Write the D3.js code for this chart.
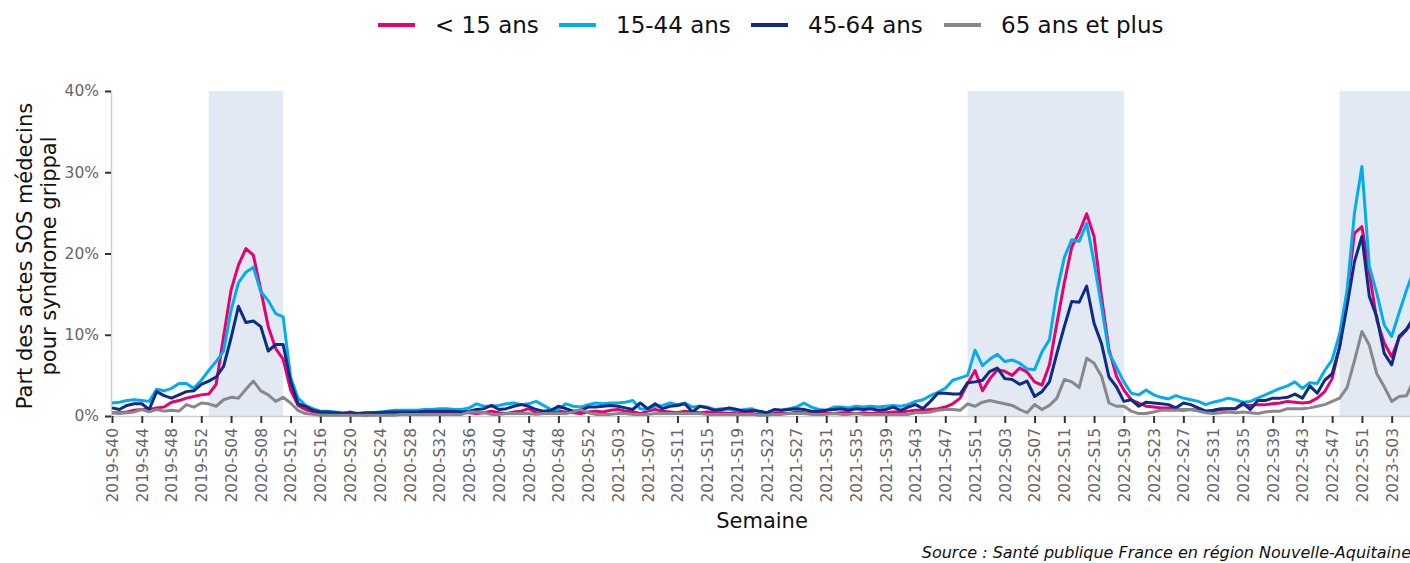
<!DOCTYPE html>
<html>
<head>
<meta charset="utf-8">
<style>
  body { margin: 0; background: #fff; }
  svg { display: block; font-family: "DejaVu Sans", sans-serif; }
  svg text { font-family: "DejaVu Sans", sans-serif; }
</style>
</head>
<body>
<svg id="chart" width="1410" height="563"></svg>
<script src="https://cdn.jsdelivr.net/npm/d3@7"></script>
<script>
// weeks: 2019-S40 .. 2023-S06 (2020 has 53 weeks)
const seasons = [[2019, 40, 52], [2020, 1, 53], [2021, 1, 52], [2022, 1, 52], [2023, 1, 6]]
const weeks = []
for (let s of seasons) {
  for (let w = s[1]; w <= s[2]; w++) weeks.push(s[0] + "-S" + String(w).padStart(2, "0"))
}

const xTickLabels = [
  "2019-S40", "2019-S44", "2019-S48", "2019-S52", "2020-S04", "2020-S08", "2020-S12", "2020-S16",
  "2020-S20", "2020-S24", "2020-S28", "2020-S32", "2020-S36", "2020-S40", "2020-S44", "2020-S48",
  "2020-S52", "2021-S03", "2021-S07", "2021-S11", "2021-S15", "2021-S19", "2021-S23", "2021-S27",
  "2021-S31", "2021-S35", "2021-S39", "2021-S43", "2021-S47", "2021-S51", "2022-S03", "2022-S07",
  "2022-S11", "2022-S15", "2022-S19", "2022-S23", "2022-S27", "2022-S31", "2022-S35", "2022-S39",
  "2022-S43", "2022-S47", "2022-S51", "2023-S03"
]
const yTicks = [0, 10, 20, 30, 40]

// periodes epidemiques (bandes grises)
const epidemics = [["2020-S01", "2020-S11"], ["2021-S50", "2022-S19"], ["2022-S48", "2023-S06"]]

const ageGroups = ["< 15 ans", "15-44 ans", "45-64 ans", "65 ans et plus"]
const colors = ["#e8006f", "#00aeef", "#0b2d85", "#87888b"]

const moins15 = [
  0.4, 0.4, 0.5, 0.7, 0.8, 0.8, 1.0, 1.1, 1.7, 1.9,
  2.2, 2.4, 2.6, 2.7, 3.9, 9.8, 15.5, 18.6, 20.6, 19.8,
  15.5, 11.0, 8.3, 7.0, 3.2, 1.3, 0.8, 0.5, 0.3, 0.3,
  0.2, 0.3, 0.5, 0.2, 0.1, 0.2, 0.2, 0.2, 0.3, 0.3,
  0.3, 0.3, 0.3, 0.4, 0.3, 0.3, 0.3, 0.4, 0.4, 0.3,
  0.4, 0.6, 0.4, 0.3, 0.5, 0.6, 0.9, 0.4, 0.3, 0.4,
  0.6, 0.5, 0.4, 0.3, 0.5, 0.6, 0.5, 0.7, 0.8, 0.6,
  0.5, 0.3, 0.6, 0.8, 0.6, 0.5, 0.4, 0.6, 0.5, 0.4,
  0.5, 0.4, 0.4, 0.3, 0.4, 0.3, 0.3, 0.2, 0.2, 0.3,
  0.3, 0.3, 0.5, 0.4, 0.3, 0.3, 0.3, 0.3, 0.4, 0.4,
  0.3, 0.4, 0.3, 0.4, 0.4, 0.5, 0.5, 0.6, 0.7, 0.7,
  0.8, 0.9, 1.1, 1.5, 2.2, 4.0, 5.6, 3.1, 4.6, 5.7,
  5.5, 5.0, 5.9, 5.4, 4.2, 3.8, 6.3, 11.4, 16.4, 20.8,
  22.6, 24.9, 22.1, 14.7, 8.2, 4.9, 3.2, 2.0, 1.6, 1.2,
  1.1, 1.0, 1.0, 0.8, 0.7, 0.8, 0.7, 0.6, 0.6, 0.8,
  0.9, 0.9, 1.4, 1.3, 1.4, 1.4, 1.5, 1.6, 1.8, 1.7,
  1.6, 1.7, 2.2, 3.0, 4.6, 8.5, 15.1, 22.5, 23.3, 17.6,
  11.8, 9.0, 7.3, 9.6, 10.6, 11.8
]
const de15a44 = [
  1.6, 1.7, 1.9, 2.0, 1.9, 1.8, 3.3, 3.1, 3.4, 4.0,
  4.0, 3.4, 4.4, 5.6, 6.7, 8.0, 13.0, 16.4, 17.7, 18.3,
  15.3, 14.2, 12.6, 12.2, 4.8, 2.2, 1.3, 0.9, 0.6, 0.6,
  0.5, 0.4, 0.4, 0.3, 0.3, 0.4, 0.5, 0.6, 0.7, 0.7,
  0.7, 0.7, 0.8, 0.8, 0.9, 0.9, 0.8, 0.8, 1.0, 1.5,
  1.2, 1.2, 1.3, 1.5, 1.6, 1.4, 1.5, 1.8, 1.3, 0.8,
  0.8, 1.5, 1.2, 1.1, 1.4, 1.6, 1.5, 1.6, 1.6, 1.7,
  1.9, 0.9, 0.8, 1.2, 1.3, 1.6, 1.4, 1.6, 1.1, 1.2,
  1.1, 0.8, 0.9, 0.8, 0.6, 0.8, 0.9, 0.5, 0.4, 0.7,
  0.7, 0.9, 1.1, 1.6, 1.1, 0.8, 0.7, 1.1, 1.1, 1.0,
  1.2, 1.1, 1.2, 1.1, 1.2, 1.3, 1.2, 1.4, 1.8, 2.0,
  2.5, 2.9, 3.4, 4.4, 4.7, 5.0, 8.1, 6.2, 7.0, 7.6,
  6.7, 6.9, 6.5, 5.8, 5.7, 7.9, 9.4, 15.3, 19.5, 21.7,
  21.5, 23.7, 18.9, 13.5, 7.8, 6.0, 4.2, 2.8, 2.6, 3.2,
  2.6, 2.3, 2.1, 2.5, 2.2, 2.0, 1.8, 1.4, 1.7, 1.9,
  2.2, 2.0, 1.7, 1.8, 2.2, 2.6, 3.0, 3.4, 3.7, 4.2,
  3.4, 4.1, 4.0, 5.6, 6.9, 10.1, 15.4, 25.0, 30.7, 18.4,
  15.1, 11.2, 9.8, 12.7, 15.5, 18.0
]
const de45a64 = [
  1.0, 0.8, 1.3, 1.5, 1.5, 0.8, 3.0, 2.5, 2.2, 2.6,
  3.0, 3.1, 3.9, 4.3, 4.8, 6.1, 9.6, 13.5, 11.5, 11.7,
  11.0, 8.0, 8.8, 8.8, 4.3, 1.5, 1.2, 0.7, 0.5, 0.5,
  0.4, 0.3, 0.4, 0.3, 0.4, 0.4, 0.4, 0.5, 0.5, 0.5,
  0.5, 0.5, 0.6, 0.6, 0.6, 0.6, 0.6, 0.5, 0.6, 0.8,
  0.9, 1.3, 0.8, 0.9, 1.2, 1.4, 1.2, 0.8, 0.6, 0.7,
  1.2, 0.9, 0.6, 0.7, 1.1, 1.1, 1.2, 1.3, 1.2, 1.0,
  0.8, 1.6, 0.9, 1.5, 0.9, 1.2, 1.3, 1.5, 0.5, 1.2,
  1.0, 0.7, 0.8, 1.0, 0.8, 0.6, 0.7, 0.6, 0.4, 0.8,
  0.7, 0.8, 0.9, 0.8, 0.6, 0.6, 0.7, 0.8, 0.9, 0.7,
  0.9, 0.8, 0.9, 0.7, 0.8, 1.1, 0.7, 1.1, 1.4, 0.9,
  1.8, 2.8, 2.8, 2.7, 2.7, 4.1, 4.2, 4.4, 5.5, 5.9,
  4.6, 4.5, 3.9, 4.3, 2.4, 3.0, 4.2, 7.7, 11.0, 14.1,
  14.0, 16.0, 11.4, 8.9, 4.8, 3.6, 1.8, 2.0, 1.2, 1.7,
  1.6, 1.5, 1.4, 1.0, 1.6, 1.4, 1.0, 0.6, 0.7, 0.9,
  0.9, 0.9, 1.6, 0.8, 1.9, 1.9, 2.2, 2.2, 2.3, 2.7,
  2.2, 3.7, 2.8, 4.4, 5.2, 8.5, 13.5, 19.0, 22.1, 14.7,
  12.2, 7.7, 6.3, 9.8, 10.7, 12.2
]
const plus65 = [
  0.4, 0.3, 0.4, 0.5, 0.8, 0.5, 0.8, 0.6, 0.7, 0.6,
  1.4, 1.1, 1.6, 1.5, 1.2, 2.0, 2.3, 2.2, 3.3, 4.3,
  3.1, 2.6, 1.8, 2.3, 1.6, 0.7, 0.3, 0.2, 0.1, 0.1,
  0.1, 0.1, 0.1, 0.1, 0.1, 0.1, 0.1, 0.1, 0.1, 0.2,
  0.2, 0.2, 0.2, 0.2, 0.2, 0.2, 0.2, 0.2, 0.5, 0.5,
  0.4, 0.2, 0.2, 0.3, 0.3, 0.3, 0.3, 0.2, 0.3, 0.3,
  0.3, 0.3, 0.5, 0.8, 0.4, 0.2, 0.2, 0.2, 0.3, 0.3,
  0.2, 0.2, 0.2, 0.3, 0.3, 0.3, 0.3, 0.3, 0.3, 0.3,
  0.2, 0.2, 0.2, 0.2, 0.2, 0.2, 0.2, 0.1, 0.1, 0.2,
  0.2, 0.3, 0.3, 0.3, 0.2, 0.2, 0.2, 0.3, 0.2, 0.2,
  0.3, 0.2, 0.2, 0.2, 0.2, 0.2, 0.2, 0.2, 0.4, 0.4,
  0.5, 0.7, 0.8, 0.8, 0.7, 1.5, 1.2, 1.7, 1.9, 1.7,
  1.5, 1.3, 0.8, 0.4, 1.4, 0.8, 1.3, 2.2, 4.5, 4.2,
  3.5, 7.1, 6.5, 4.9, 1.6, 1.2, 1.2, 0.6, 0.3, 0.3,
  0.5, 0.7, 0.7, 0.7, 0.8, 0.8, 0.6, 0.4, 0.3, 0.4,
  0.5, 0.4, 0.5, 0.4, 0.3, 0.5, 0.6, 0.6, 0.9, 0.9,
  0.9, 1.0, 1.2, 1.4, 1.8, 2.2, 3.5, 6.8, 10.4, 8.7,
  5.2, 3.6, 1.8, 2.4, 2.5, 4.5
]
const series = [moins15, de15a44, de45a64, plus65]

let svg = d3.select("#chart")

let x = d3.scalePoint()
  .domain(weeks)
  .range([112, 112 + 7.44 * (weeks.length - 1)])

let y = d3.scaleLinear()
  .domain([0, 40])
  .range([416, 91])

// bandes epidemiques
svg.append("g").selectAll("rect")
  .data(epidemics)
  .enter().append("rect")
  .attr("x", d => x(d[0]))
  .attr("y", y(40))
  .attr("width", d => x(d[1]) - x(d[0]))
  .attr("height", y(0) - y(40))
  .attr("fill", "#e3e9f2")

// axe y
let yAxis = svg.append("g")
  .attr("transform", "translate(111,0)")
  .call(d3.axisLeft(y).tickValues(yTicks).tickFormat(d => d + "%").tickSize(6).tickPadding(6))
yAxis.attr("font-family", null)
yAxis.select(".domain").attr("stroke", "#cfcfcf").attr("stroke-width", 1.5)
yAxis.selectAll(".tick line").attr("stroke", "#333").attr("stroke-width", 2)
yAxis.selectAll("text").attr("fill", "#666").style("font-size", "15.5px")

// axe x
let xAxis = svg.append("g")
  .attr("transform", "translate(0,416)")
  .call(d3.axisBottom(x).tickValues(xTickLabels).tickSize(7).tickSizeOuter(0))
xAxis.attr("font-family", null)
xAxis.select(".domain").attr("stroke", "#cfcfcf").attr("stroke-width", 1.5)
xAxis.selectAll(".tick line").attr("stroke", "#333").attr("stroke-width", 2)
xAxis.selectAll("text")
  .attr("fill", "#666")
  .style("font-size", "15.5px")
  .attr("text-anchor", "end")
  .attr("transform", "rotate(-90)")
  .attr("x", -12)
  .attr("y", 0)
  .attr("dy", "0.35em")

// courbes
let line = d3.line()
  .x((d, i) => x(weeks[i]))
  .y(d => y(d))

svg.append("g").selectAll("path")
  .data(series)
  .enter().append("path")
  .attr("d", d => line(d))
  .attr("fill", "none")
  .attr("stroke", (d, i) => colors[i])
  .attr("stroke-width", 3)
  .attr("stroke-linejoin", "round")

// titres
svg.append("text")
  .attr("transform", "translate(34,256) rotate(-90)")
  .attr("text-anchor", "middle")
  .style("font-size", "21px")
  .attr("fill", "#111")
  .selectAll("tspan")
  .data(["Part des actes SOS médecins", "pour syndrome grippal"])
  .enter().append("tspan")
  .attr("x", 0)
  .attr("dy", (d, i) => i == 0 ? "-0.1em" : "1.15em")
  .text(d => d)

svg.append("text")
  .attr("x", 762)
  .attr("y", 528)
  .attr("text-anchor", "middle")
  .style("font-size", "21px")
  .attr("fill", "#111")
  .text("Semaine")

svg.append("text")
  .attr("x", 1411)
  .attr("y", 558)
  .attr("text-anchor", "end")
  .style("font-size", "16px")
  .style("font-style", "italic")
  .attr("fill", "#111")
  .text("Source : Santé publique France en région Nouvelle-Aquitaine")

// legende
let legendX = [378, 559, 751, 944]
let legend = svg.append("g").selectAll("g")
  .data(ageGroups)
  .enter().append("g")
  .attr("transform", (d, i) => "translate(" + legendX[i] + ",25)")
legend.append("line")
  .attr("x1", 0).attr("x2", 37)
  .attr("stroke", (d, i) => colors[i])
  .attr("stroke-width", 4)
legend.append("text")
  .attr("x", 57)
  .attr("dy", "0.35em")
  .style("font-size", "23px")
  .attr("fill", "#111")
  .text(d => d)
</script>
</body>
</html>
